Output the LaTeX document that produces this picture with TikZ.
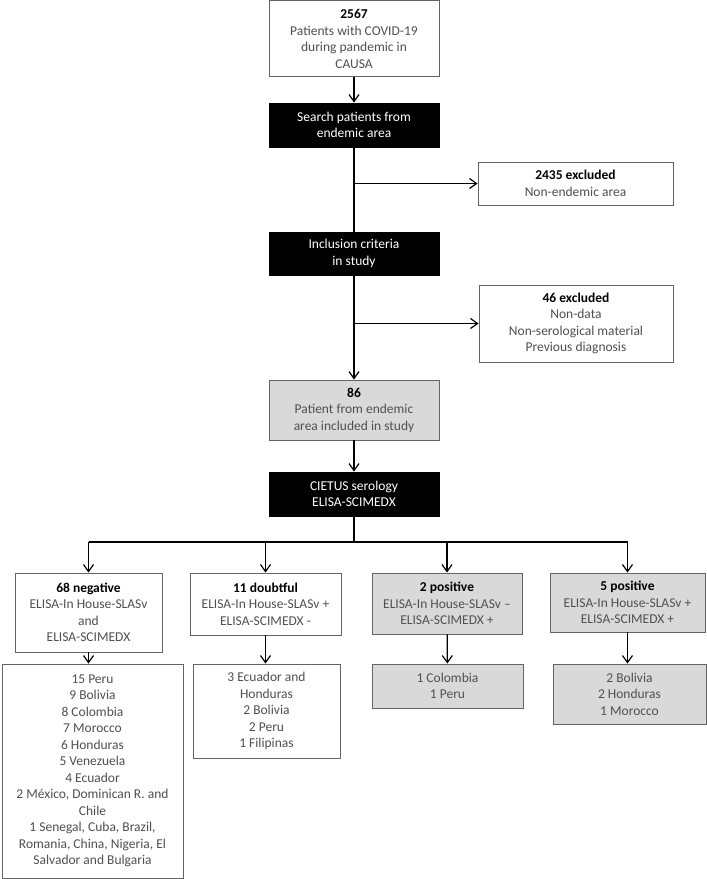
\documentclass[tikz,border=0pt]{standalone}
\usepackage{fontspec}
\setmainfont{Carlito}
\usetikzlibrary{arrows.meta,positioning}
\definecolor{txtcol}{RGB}{80,80,80}
\definecolor{boxgrey}{RGB}{217,217,217}
\definecolor{edgecol}{RGB}{100,100,100}
\newcommand{\hd}[1]{\textcolor{black}{\textbf{#1}}}

\begin{document}
\begin{tikzpicture}[
    x=1pt, y=-1pt,
    >={Straight Barb[length=7pt,width=10pt]},
    box/.style={rectangle, draw=edgecol, line width=0.9pt, fill=white, align=center, text=txtcol, font=\fontsize{13.5}{16.5}\selectfont, inner sep=0pt},
    greybox/.style={box, fill=boxgrey},
    darkbox/.style={box, fill=black, draw=black, text=white},
    arrow/.style={->, line width=1.2pt},
    link/.style={line width=1.2pt},
]
\useasboundingbox (0,0) rectangle (707,879);

\node[box, minimum width=170, minimum height=76] (covid) at (354,38.8) {\hd{2567}\\Patients with COVID-19\\during pandemic in\\CAUSA};
\node[darkbox, minimum width=170, minimum height=44] (search) at (354,125) {Search patients from\\endemic area};
\node[box, minimum width=195, minimum height=43] (excl1) at (575.5,183.5) {\hd{2435 excluded}\\Non-endemic area};
\node[darkbox, minimum width=170, minimum height=43] (incl) at (354,253.5) {Inclusion criteria\\in study};
\node[box, minimum width=194, minimum height=77] (excl2) at (576,323.5) {\hd{46 excluded}\\Non-data\\Non-serological material\\Previous diagnosis};
\node[greybox, minimum width=170, minimum height=60] (endemic) at (354,410) {\hd{86}\\Patient from endemic\\area included in study};
\node[darkbox, minimum width=170, minimum height=44] (cietus) at (354,494) {CIETUS serology\\ELISA-SCIMEDX};

\node[box, minimum width=147, minimum height=79] (neg) at (88.5,612.5) {\hd{68 negative}\\ELISA-In House-SLASv\\and\\ELISA-SCIMEDX};
\node[box, minimum width=151, minimum height=62] (doubt) at (265.5,604) {\hd{11 doubtful}\\ELISA-In House-SLASv +\\ELISA-SCIMEDX -};
\node[greybox, minimum width=150, minimum height=61] (posa) at (447,603.5) {\hd{2 positive}\\ELISA-In House-SLASv --\\ELISA-SCIMEDX +};
\node[greybox, minimum width=155, minimum height=59] (posb) at (627.5,602.5) {\hd{5 positive}\\ELISA-In House-SLASv +\\ELISA-SCIMEDX +};

\node[box, minimum width=181, minimum height=214] (negc) at (92.5,771) {15 Peru\\9 Bolivia\\8 Colombia\\7 Morocco\\6 Honduras\\5 Venezuela\\4 Ecuador\\2 México, Dominican R. and\\Chile\\1 Senegal, Cuba, Brazil,\\Romania, China, Nigeria, El\\Salvador and Bulgaria};
\node[box, minimum width=147, minimum height=94] (doubtc) at (266.5,711) {3 Ecuador and\\Honduras\\2 Bolivia\\2 Peru\\1 Filipinas};
\node[greybox, minimum width=151, minimum height=44] (posac) at (447.5,686) {1 Colombia\\1 Peru};
\node[greybox, minimum width=153, minimum height=60] (posbc) at (629.5,694) {2 Bolivia\\2 Honduras\\1 Morocco};

\coordinate (bus) at (354,542);

\draw[arrow] (covid) -- (search);
\draw[link] (search) -- (incl);
\draw[arrow] (search.south |- excl1.west) -- (excl1.west);
\draw[arrow] (incl) -- (endemic);
\draw[arrow] (incl.south |- excl2.west) -- (excl2.west);
\draw[arrow] (endemic) -- (cietus);
\draw[link] (cietus) -- (bus);
\draw[link] (neg.north |- bus) -- (posb.north |- bus);
\foreach \b in {neg,doubt,posa,posb}
    \draw[arrow] (\b.north |- bus) -- (\b.north);
\draw[arrow] (neg) -- (neg.south |- negc.north);
\draw[arrow] (doubt) -- (doubtc.north -| doubt.south);
\draw[arrow] (posa) -- (posac);
\draw[arrow] (posb) -- (posb.south |- posbc.north);
\end{tikzpicture}
\end{document}
